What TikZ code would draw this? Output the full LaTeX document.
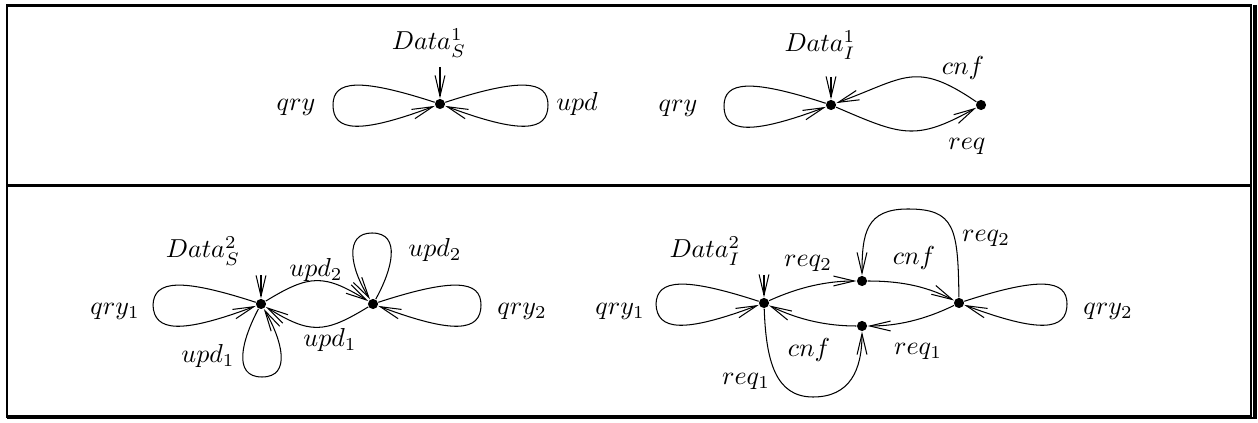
\documentclass[tikz,border=0pt]{standalone}
\usetikzlibrary{arrows.meta}
\begin{document}
\begin{tikzpicture}[x=0.385pt,y=-0.385pt,
  dot/.style={circle,fill=black,inner sep=0pt,minimum size=3.9pt},
  edge/.style={line width=0.4pt,-{Straight Barb[length=8pt,width=3.8pt]}},
  lbl/.style={anchor=base,inner sep=0pt},
  frame/.style={line width=0.95pt}]
\useasboundingbox (0,0) rectangle (1258,423);
% frame
\draw[frame] (7,5.5) rectangle (1251,416.5);
\draw[frame] (7,185.5) -- (1251,185.5);
\draw[line width=1.3pt] (1255,5) -- (1255,418.5);
\draw[line width=0.6pt] (7,418) -- (1256.5,418);

% ---------- top left: Data_S^1
\node[dot] (S1) at (440,104) {};
\coordinate (iS1) at (440,67);
\draw[edge] (iS1) -- (S1);
\draw[edge] (S1) .. controls (360,78) and (333,80) .. (333,105) .. controls (333,132) and (360,134) .. (S1);
\draw[edge] (S1) .. controls (520,78) and (548,80) .. (548,105) .. controls (548,132) and (520,134) .. (S1);
\node[lbl] (lS1) at (429,50) {$Data_S^1$};
\node[lbl] (lqS1) at (296,111) {$qry$};
\node[lbl] (luS1) at (577,111) {$upd$};

% ---------- top right: Data_I^1
\node[dot] (I1) at (831,105) {};
\node[dot] (J1) at (981,105) {};
\coordinate (iI1) at (831,77);
\draw[edge] (iI1) -- (I1);
\draw[edge] (I1) .. controls (751,79) and (724,81) .. (724,106) .. controls (724,133) and (751,135) .. (I1);
\draw[edge] (J1) .. controls (915,60) and (905,78) .. (I1);
\draw[edge] (I1) .. controls (901,135) and (915,142) .. (J1);
\node[lbl] (lI1) at (820,52) {$Data_I^1$};
\node[lbl] (lqI1) at (678,112) {$qry$};
\node[lbl] (lcI1) at (963,75) {$cnf$};
\node[lbl] (lrI1) at (967,150) {$req$};

% ---------- bottom left: Data_S^2
\node[dot] (A) at (261,304) {};
\node[dot] (B) at (373,304) {};
\coordinate (iA) at (261,275);
\draw[edge] (iA) -- (A);
\draw[edge] (A) .. controls (181,278) and (154,280) .. (153,305) .. controls (154,332) and (181,334) .. (A);
\draw[edge] (B) .. controls (453,278) and (481,280) .. (481,305) .. controls (481,332) and (453,334) .. (B);
\draw[edge] (A) .. controls (242,340) and (232,377) .. (262,377) .. controls (292,377) and (282,340) .. (A);
\draw[edge] (B) .. controls (392,270) and (402,233) .. (372,233) .. controls (344,233) and (350,268) .. (B);
\draw[edge] (A) .. controls (310,274) and (324,274) .. (B);
\draw[edge] (B) .. controls (324,334) and (310,334) .. (A);
\node[lbl] (lA) at (203,258) {$Data_S^2$};
\node[lbl] (lqA) at (115,315) {$qry_1$};
\node[lbl] (luA) at (208,363) {$upd_1$};
\node[lbl] (luAB) at (316,277) {$upd_2$};
\node[lbl] (luBA) at (330,347) {$upd_1$};
\node[lbl] (luB) at (435,257) {$upd_2$};
\node[lbl] (lqB) at (522,315) {$qry_2$};

% ---------- bottom right: Data_I^2
\node[dot] (P) at (764,303) {};
\node[dot] (Q) at (862,281) {};
\node[dot] (R) at (862,326) {};
\node[dot] (T) at (959,303) {};
\coordinate (iP) at (764,275);
\draw[edge] (iP) -- (P);
\draw[edge] (P) .. controls (684,277) and (657,279) .. (656,304) .. controls (657,331) and (684,333) .. (P);
\draw[edge] (T) .. controls (1039,277) and (1067,279) .. (1067,304) .. controls (1067,331) and (1039,333) .. (T);
\draw[edge] (P) .. controls (799,287) and (827,281) .. (Q);
\draw[edge] (Q) .. controls (897,281) and (924,285) .. (T);
\draw[edge] (T) .. controls (958,228) and (955,209) .. (908,209) .. controls (866,209) and (862,233) .. (Q);
\draw[edge] (T) .. controls (924,320) and (897,326) .. (R);
\draw[edge] (R) .. controls (827,326) and (799,320) .. (P);
\draw[edge] (P) .. controls (766,360) and (775,397) .. (813,397) .. controls (850,397) and (862,370) .. (R);
\node[lbl] (lP) at (705,258) {$Data_I^2$};
\node[lbl] (lqP) at (620,315) {$qry_1$};
\node[lbl] (lrPQ) at (808,267) {$req_2$};
\node[lbl] (lcQT) at (914,265) {$cnf$};
\node[lbl] (lrTQ) at (986,242) {$req_2$};
\node[lbl] (lrTR) at (918,355) {$req_1$};
\node[lbl] (lcRP) at (809,357) {$cnf$};
\node[lbl] (lrPR) at (746,385) {$req_1$};
\node[lbl] (lqT) at (1108,315) {$qry_2$};
\end{tikzpicture}
\end{document}
